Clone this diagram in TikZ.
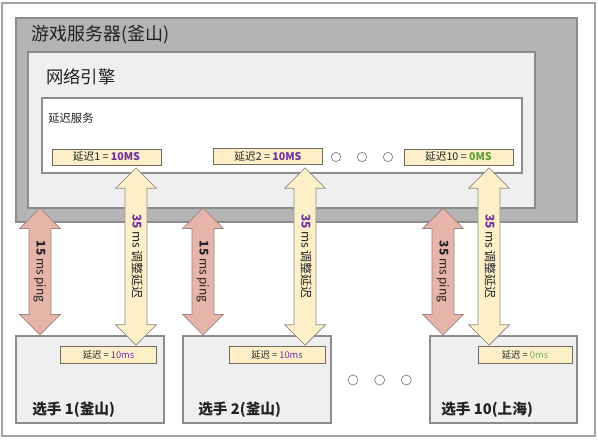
\documentclass[tikz,border=0pt]{standalone}
\usepackage{fontspec}
\setmainfont{Noto Sans CJK SC}
\usetikzlibrary{positioning,shapes.arrows}

\definecolor{srvgray}{HTML}{B4B4B4}
\definecolor{panel}{HTML}{EFEFEF}
\definecolor{edge}{HTML}{8C8C8C}
\definecolor{darkedge}{HTML}{6E6A60}
\definecolor{cream}{HTML}{FDF0C9}
\definecolor{salmon}{HTML}{E6B4A9}
\definecolor{pinkedge}{HTML}{9A8682}
\definecolor{violet}{HTML}{7030A0}
\definecolor{leaf}{HTML}{5AA02C}
\definecolor{ink}{HTML}{222222}

\begin{document}
\begin{tikzpicture}[x = 0.75pt, y = -0.75pt, node distance = 19.5pt, on grid,
    box/.style = {draw = edge, line width = 0.8pt},
    delay/.style = {draw = darkedge, fill = cream, line width = 0.6pt, inner sep = 0pt,
      minimum width = 81.75pt, minimum height = 12pt, text = ink,
      font = \fontsize{8}{9}\selectfont},
    delaysmall/.style = {delay, minimum width = 72pt, minimum height = 12.75pt,
      font = \fontsize{7}{8}\selectfont},
    player/.style = {box, fill = panel, minimum width = 111pt, minimum height = 65.25pt,
      inner sep = 0pt},
    dot/.style = {circle, draw = edge, fill = white, line width = 0.6pt,
      minimum size = 7pt, inner sep = 0pt},
    blockarrow/.style = {double arrow, rotate = -90, line width = 0.6pt,
      double arrow head extend = 7pt, minimum width = 29pt, inner xsep = 0pt,
      inner ysep = 4.5pt, text height = 6pt, text depth = 1pt, text = ink,
      font = \fontsize{9}{10}\selectfont},
    ping/.style = {blockarrow, draw = pinkedge, fill = salmon, minimum height = 95pt},
    adjust/.style = {blockarrow, draw = edge, fill = cream, minimum height = 133pt},
    label/.style = {anchor = west, inner sep = 0pt, text = ink}]
   \useasboundingbox (0,0) rectangle (598,440);
   \draw[draw = edge!80, line width = 0.8pt] (2,3) rectangle (595,436);

   % server, engine and service panels
   \draw[box, fill = srvgray] (16,18) rectangle (577,222);
   \node[label, font = \fontsize{13.5}{15}\selectfont] (server) at (31,35) {游戏服务器(釜山)};
   \draw[box, fill = panel] (28,52) rectangle (535,208);
   \node[label, font = \fontsize{13}{15}\selectfont] (engine) at (46,77) {网络引擎};
   \draw[box, fill = white] (42,98) rectangle (522,173);
   \node[label, font = \fontsize{8.5}{10}\selectfont] (service) at (48,118) {延迟服务};

   \node[delay] (l_1) at (106.5,157) {延迟1\ =\ {\bfseries\color{violet}10MS}};
   \node[delay] (l_2) at (268,156.5) {延迟2\ =\ {\bfseries\color{violet}10MS}};
   \node[dot] (d_1) at (336,157) {};
   \node[dot] (d_2) [right = of d_1] {};
   \node[dot] (d_3) [right = of d_2] {};
   \node[delay] (l_10) at (458.5,157) {延迟10\ =\ {\bfseries\color{leaf}0MS}};

   % players
   \node[player] (p_1) at (90,379.5) {};
   \node[player] (p_2) at (257,379.5) {};
   \node[player, minimum width = 110.25pt] (p_10) at (503.5,379.5) {};
   \node[delaysmall] (c_1) at (108.5,354.5) {延迟\ =\ {\color{violet}10ms}};
   \node[delaysmall] (c_2) at (277,354.5) {延迟\ =\ {\color{violet}10ms}};
   \node[delaysmall, minimum width = 70.5pt] (c_10) at (525,354.5) {延迟\ =\ {\color{leaf!80}0ms}};
   \node[label, font = \fontsize{11}{13}\bfseries\selectfont] (n_1) at (32,410) {选手 1(釜山)};
   \node[label, font = \fontsize{11}{13}\bfseries\selectfont] (n_2) at (198,410) {选手 2(釜山)};
   \node[label, font = \fontsize{11}{13}\bfseries\selectfont] (n_10) at (441,410) {选手 10(上海)};
   \node[dot, minimum size = 7.5pt] (e_1) at (353,380) {};
   \node[dot, minimum size = 7.5pt] (e_2) [right = 20pt of e_1] {};
   \node[dot, minimum size = 7.5pt] (e_3) [right = 20pt of e_2] {};

   % ping and adjusted delay arrows
   \node[ping] (a_1) at (40,271.5) {{\bfseries 15} ms ping};
   \node[ping] (a_2) at (203,271.5) {{\bfseries 15} ms ping};
   \node[ping] (a_3) at (443,271.5) {{\bfseries 35} ms ping};
   \node[adjust] (b_1) at (136,256.5) {{\bfseries\color{violet}35} ms 调整延迟};
   \node[adjust] (b_2) at (305,256.5) {{\bfseries\color{violet}35} ms 调整延迟};
   \node[adjust] (b_3) at (489,256.5) {{\bfseries\color{violet}35} ms 调整延迟};
\end{tikzpicture}
\end{document}
